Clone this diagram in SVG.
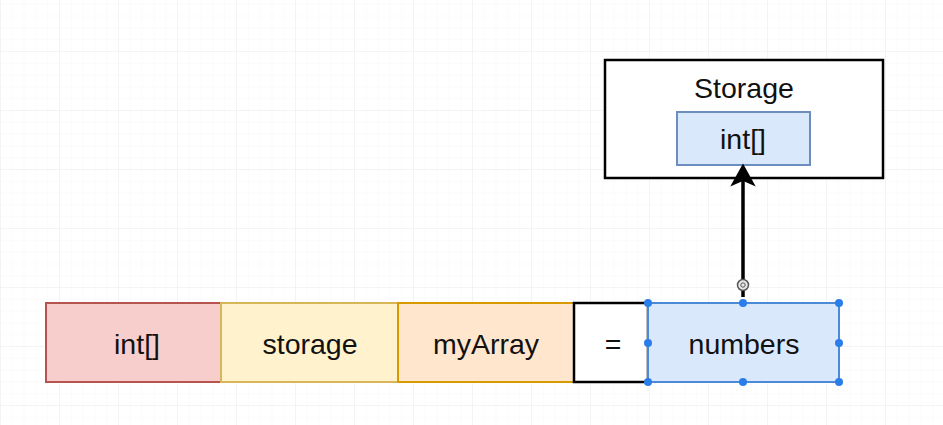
<svg xmlns="http://www.w3.org/2000/svg" width="943" height="425" viewBox="0 0 943 425">
<defs>
<pattern id="minor" width="11.8" height="11.8" patternUnits="userSpaceOnUse" x="1" y="-7">
<path d="M11.8 0V11.8M0 11.8H11.8" fill="none" stroke="#f7f7f7" stroke-width="1"/>
</pattern>
<pattern id="major" width="59" height="59" patternUnits="userSpaceOnUse" x="1" y="-7">
<path d="M59 0V59M0 59H59" fill="none" stroke="#ececec" stroke-width="1"/>
</pattern>
</defs>
<style>
text{font-family:"Liberation Sans",Arial,sans-serif;font-size:28.5px;fill:#111;text-anchor:middle;dominant-baseline:central}
.h{fill:#2b7de9}
</style>
<rect width="943" height="425" fill="#fff"/>
<rect width="943" height="425" fill="url(#minor)"/>
<rect width="943" height="425" fill="url(#major)"/>

<g id="storage-box">
<rect x="605" y="60" width="278" height="118" fill="#fff" stroke="#000" stroke-width="2.5"/>
<text x="744" y="88">Storage</text>
</g>
<g id="storage-int">
<rect x="677" y="112" width="133" height="53" fill="#dae8fc" stroke="#6c8ebf" stroke-width="2"/>
<text x="743" y="139">int[]</text>
</g>

<g id="type">
<rect x="46" y="303" width="175" height="79" fill="#f8cecc" stroke="#b85450" stroke-width="2"/>
<text x="137" y="344">int[]</text>
</g>
<g id="location">
<rect x="221" y="303" width="177" height="79" fill="#fff2cc" stroke="#d6b656" stroke-width="2"/>
<text x="310" y="344">storage</text>
</g>
<g id="name">
<rect x="398" y="303" width="176" height="79" fill="#ffe6cc" stroke="#d79b00" stroke-width="2"/>
<text x="486" y="344">myArray</text>
</g>
<g id="equals">
<rect x="574" y="303" width="74" height="79" fill="#fff" stroke="#000" stroke-width="2.5"/>
<text x="613" y="344">=</text>
</g>
<g id="numbers">
<rect x="648" y="303" width="191" height="79" fill="#dae8fc" stroke="#4a8ad8" stroke-width="2"/>
<text x="744" y="344">numbers</text>
<circle class="h" cx="648" cy="303" r="4"/>
<circle class="h" cx="743" cy="303" r="4"/>
<circle class="h" cx="839" cy="303" r="4"/>
<circle class="h" cx="648" cy="343" r="4"/>
<circle class="h" cx="839" cy="343" r="4"/>
<circle class="h" cx="648" cy="382" r="4"/>
<circle class="h" cx="743" cy="382" r="4"/>
<circle class="h" cx="839" cy="382" r="4"/>
</g>

<g id="connectors">
<line x1="743" y1="297" x2="743" y2="180" stroke="#000" stroke-width="3.5"/>
<path d="M743 165L754 185L743 180L732 185Z" fill="#000" stroke="#000" stroke-width="1.5" stroke-linejoin="miter"/>
<circle cx="743" cy="285" r="5.5" fill="#e8e8e8" stroke="#555" stroke-width="1.5"/>
<circle cx="743" cy="285" r="2.2" fill="none" stroke="#555" stroke-width="1"/>
</g>
</svg>
